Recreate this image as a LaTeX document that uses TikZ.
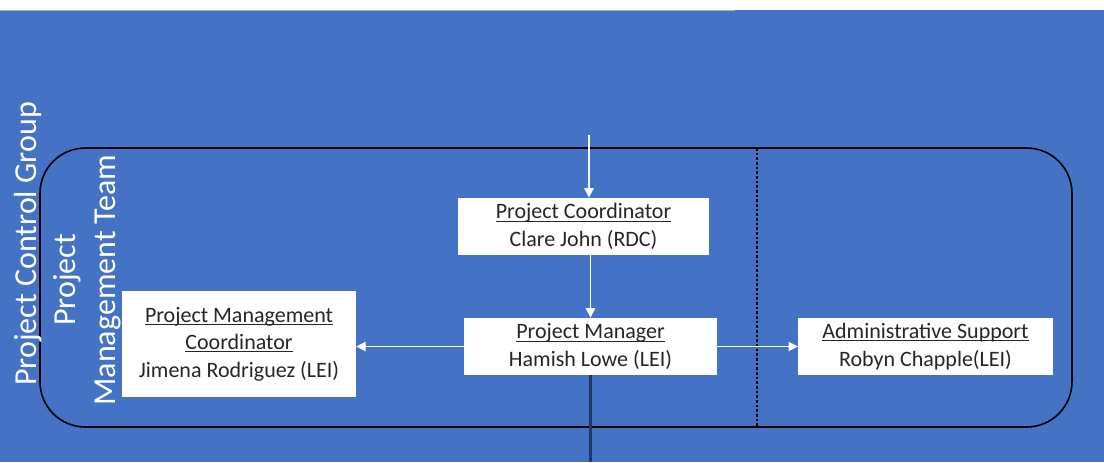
\documentclass[tikz,border=0pt]{standalone}
\usepackage{fontspec}
\setmainfont{Carlito}
\usetikzlibrary{arrows.meta}
\definecolor{slideblue}{HTML}{4472C4}
\definecolor{navyline}{HTML}{203864}
% underlined role title, line close to the baseline
\newcommand{\roletitle}[1]{\leavevmode\setbox0\hbox{#1}\rlap{\rule[-2pt]{\wd0}{0.7pt}}\box0}
\tikzset{
  rolebox/.style={fill=white, text=black!85, align=center, inner sep=0pt,
    font=\fontsize{16.5}{20.5}\selectfont},
  grouplabel/.style={rotate=90, text=white, align=center,
    font=\fontsize{24}{30}\selectfont},
  flow/.style={white, line width=1.1pt, -{Triangle[length=7pt,width=7pt]}},
}
\begin{document}
\begin{tikzpicture}[x=0.75pt,y=-0.75pt]
		\useasboundingbox (0,0) rectangle (1104,462);
		% Background
		\fill[white] (0,0) rectangle (1104,462);
		\fill[slideblue] (0,10) rectangle (1104,462);
		\draw[slideblue!55, line width=0.8pt] (0,10.5) -- (735,10.5);
		% Team frame
		\draw[black, line width=1.2pt, rounded corners=34pt] (40,148) rectangle (1072,427);
		\draw[black, line width=1pt, dash pattern=on 2pt off 1.5pt] (757,148) -- (757,427);
		% Group labels
		\node[grouplabel] (pcg) at (28,244) {Project Control Group};
		\node[grouplabel] (pmt) at (87,280) {Project\\Management Team};
		% Roles
		\node[rolebox, minimum width=188pt, minimum height=43pt] (pc) at (583.5,226.5)
			{\roletitle{Project Coordinator}\\Clare John (RDC)};
		\node[rolebox, minimum width=190pt, minimum height=43pt] (pm) at (590.5,346.5)
			{\roletitle{Project Manager}\\Hamish Lowe (LEI)};
		\node[rolebox, minimum width=175.5pt, minimum height=79.5pt] (pmc) at (239,344)
			{\roletitle{Project Management}\\\roletitle{Coordinator}\\Jimena Rodriguez (LEI)};
		\node[rolebox, minimum width=191pt, minimum height=43pt] (as) at (925.5,346.5)
			{\roletitle{Administrative Support}\\Robyn Chapple(LEI)};
		% Links
		\coordinate (in) at (589,135);
		\coordinate (out) at (590.5,462);
		\draw[flow] (in) -- (in |- pc.north);
		\draw[flow] (pm.north |- pc.south) -- (pm.north);
		\draw[flow] (pm.west) -- (pm.west -| pmc.east);
		\draw[flow] (pm.east) -- (as.west);
		\draw[navyline, line width=1.6pt] (pm.south) -- (out);
	\end{tikzpicture}
\end{document}
